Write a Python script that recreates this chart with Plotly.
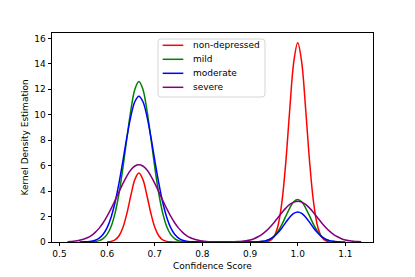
import plotly.graph_objects as go

# ---- data ----
# sampling grid of the confidence-score axis (steps of 1/120, 0.5167 .. 1.1333)
x_grid = [round(k / 120, 5) for k in range(62, 137)]

N = None
non_depressed = [N] * 10 + [
    0.011, 0.049, 0.17, 0.49, 1.16, 2.28, 3.69, 4.92, 5.42, 4.92, 3.69, 2.28, 1.16, 0.49, 0.17, 0.049, 0.011, 0.002,
] + [0.0] * 21 + [
    0.004, 0.024, 0.11, 0.41, 1.24, 3.09, 6.28, 10.43, 14.14, 15.65, 14.14, 10.43, 6.28, 3.09, 1.24, 0.41, 0.11, 0.024,
] + [N] * 8

mild = [N] * 6 + [
    0.013, 0.04, 0.11, 0.27, 0.60, 1.22, 2.27, 3.83, 5.88, 8.21, 10.41, 12.01, 12.6,
    12.01, 10.41, 8.21, 5.88, 3.83, 2.27, 1.22, 0.60, 0.27, 0.11, 0.04, 0.013, 0.004,
] + [0.0] * 15 + [
    0.004, 0.013, 0.037, 0.095, 0.22, 0.45, 0.83, 1.37, 2.03, 2.67, 3.16, 3.34,
    3.16, 2.67, 2.03, 1.37, 0.83, 0.45, 0.22, 0.095, 0.037, 0.013, 0.004,
] + [N] * 5

moderate = [N] * 3 + [
    0.003, 0.010, 0.026, 0.063, 0.14, 0.31, 0.61, 1.13, 1.95, 3.12, 4.64, 6.42, 8.27, 9.91, 11.04, 11.45,
    11.04, 9.91, 8.27, 6.42, 4.64, 3.12, 1.95, 1.13, 0.61, 0.31, 0.14, 0.063, 0.026, 0.010, 0.003,
] + [0.0] * 12 + [
    0.002, 0.007, 0.020, 0.050, 0.11, 0.23, 0.42, 0.72, 1.10, 1.54, 1.95, 2.25, 2.36,
    2.25, 1.95, 1.54, 1.10, 0.72, 0.42, 0.23, 0.11, 0.050, 0.020, 0.007, 0.002,
] + [N] * 4

severe = [
    0.023, 0.043, 0.075, 0.13, 0.21, 0.33, 0.51, 0.76, 1.09, 1.51, 2.03, 2.62, 3.27, 3.95, 4.61, 5.20, 5.67, 5.97, 6.07,
    5.97, 5.67, 5.20, 4.61, 3.95, 3.27, 2.62, 2.03, 1.51, 1.09, 0.76, 0.51, 0.33, 0.21, 0.13, 0.075, 0.043, 0.023,
    0.012, 0.007, 0.005, 0.006, 0.009,
    0.016, 0.031, 0.056, 0.098, 0.16, 0.26, 0.41, 0.60, 0.85, 1.16, 1.52, 1.91, 2.30, 2.66, 2.95, 3.13, 3.2,
    3.13, 2.95, 2.66, 2.30, 1.91, 1.52, 1.16, 0.85, 0.60, 0.41, 0.26, 0.16, 0.098, 0.056, 0.031, 0.016,
]

series_names = ["non-depressed", "mild", "moderate", "severe"]
series_values = [non_depressed, mild, moderate, severe]
series_colors = ["#ff0000", "#008000", "#0000ff", "#800080"]

x_ticks = [0.5, 0.6, 0.7, 0.8, 0.9, 1.0, 1.1]
x_tick_labels = ["0.5", "0.6", "0.7", "0.8", "0.9", "1.0", "1.1"]
y_ticks = [0, 2, 4, 6, 8, 10, 12, 14, 16]
y_tick_labels = ["0", "2", "4", "6", "8", "10", "12", "14", "16"]
x_title = "Confidence Score"
y_title = "Kernel Density Estimation"

# ---- figure ----
# the page body has an 8px margin, so the figure is drawn 8px in from the window corner
OFF = 8
W, H = 415 - OFF, 277 - OFF
# plot-area edges in window pixels
PL, PR, PT, PB = 52, 373, 33, 242
FONT = "DejaVu Sans"

fig = go.Figure()
for name, vals, col in zip(series_names, series_values, series_colors):
    fig.add_trace(go.Scatter(
        x=x_grid, y=vals, name=name, mode="lines",
        line=dict(color=col, width=1.5, shape="spline", smoothing=1.0),
        connectgaps=False, showlegend=False,
    ))


def pxx(xp):
    return (xp - PL) / (PR - PL)


def pxy(yp):
    return (PB - yp) / (PB - PT)


# legend frame (rounded rectangle) drawn manually
lx0, lx1, ly0, ly1, r = 158, 265, 39, 97, 3
rx, ry = r / (PR - PL), r / (PB - PT)
X0, X1, Y0, Y1 = pxx(lx0), pxx(lx1), pxy(ly1), pxy(ly0)
path = (f"M {X0+rx},{Y0} L {X1-rx},{Y0} Q {X1},{Y0} {X1},{Y0+ry} "
        f"L {X1},{Y1-ry} Q {X1},{Y1} {X1-rx},{Y1} L {X0+rx},{Y1} "
        f"Q {X0},{Y1} {X0},{Y1-ry} L {X0},{Y0+ry} Q {X0},{Y0} {X0+rx},{Y0} Z")
shapes = [dict(type="path", xref="paper", yref="paper", path=path,
               line=dict(color="#d6d6d6", width=1), fillcolor="rgba(255,255,255,0.8)", layer="above")]
annotations = []
rows = [45.3, 59.3, 73.3, 87.3]
for name, col, ry_ in zip(series_names, series_colors, rows):
    shapes.append(dict(type="line", xref="paper", yref="paper",
                       x0=pxx(162.7), x1=pxx(183.3), y0=pxy(ry_), y1=pxy(ry_),
                       line=dict(color=col, width=1.5), layer="above"))
    annotations.append(dict(text=name, xref="paper", yref="paper", x=pxx(190.5), y=pxy(ry_),
                            xanchor="left", yanchor="middle", showarrow=False,
                            font=dict(family=FONT, size=9, color="#000")))

# axis titles
annotations.append(dict(text=x_title, xref="paper", yref="paper", x=0.5, y=pxy(265.7),
                        xanchor="center", yanchor="middle", showarrow=False,
                        font=dict(family=FONT, size=9, color="#000")))
annotations.append(dict(text=y_title, xref="paper", yref="paper", x=pxx(24), y=0.5,
                        xanchor="center", yanchor="middle", showarrow=False, textangle=-90,
                        font=dict(family=FONT, size=9, color="#000")))

fig.update_layout(
    width=W, height=H,
    margin=dict(l=PL - OFF, r=415 - PR, t=PT - OFF, b=277 - PB, pad=0, autoexpand=False),
    paper_bgcolor="white", plot_bgcolor="white",
    font=dict(family=FONT, size=9, color="#000"),
    shapes=shapes, annotations=annotations,
    showlegend=False,
)
axis_common = dict(showgrid=False, zeroline=False, showline=True, mirror=True, automargin=False,
                   linecolor="#000", linewidth=0.8, ticks="outside", ticklen=3.5,
                   tickwidth=0.8, tickcolor="#000", tickfont=dict(family=FONT, size=9, color="#000"))
fig.update_xaxes(range=[0.4843, 1.158], tickvals=x_ticks, ticktext=x_tick_labels, **axis_common)
fig.update_yaxes(range=[0, 16.42], tickvals=y_ticks, ticktext=y_tick_labels, **axis_common)

fig.write_html("out.html")
